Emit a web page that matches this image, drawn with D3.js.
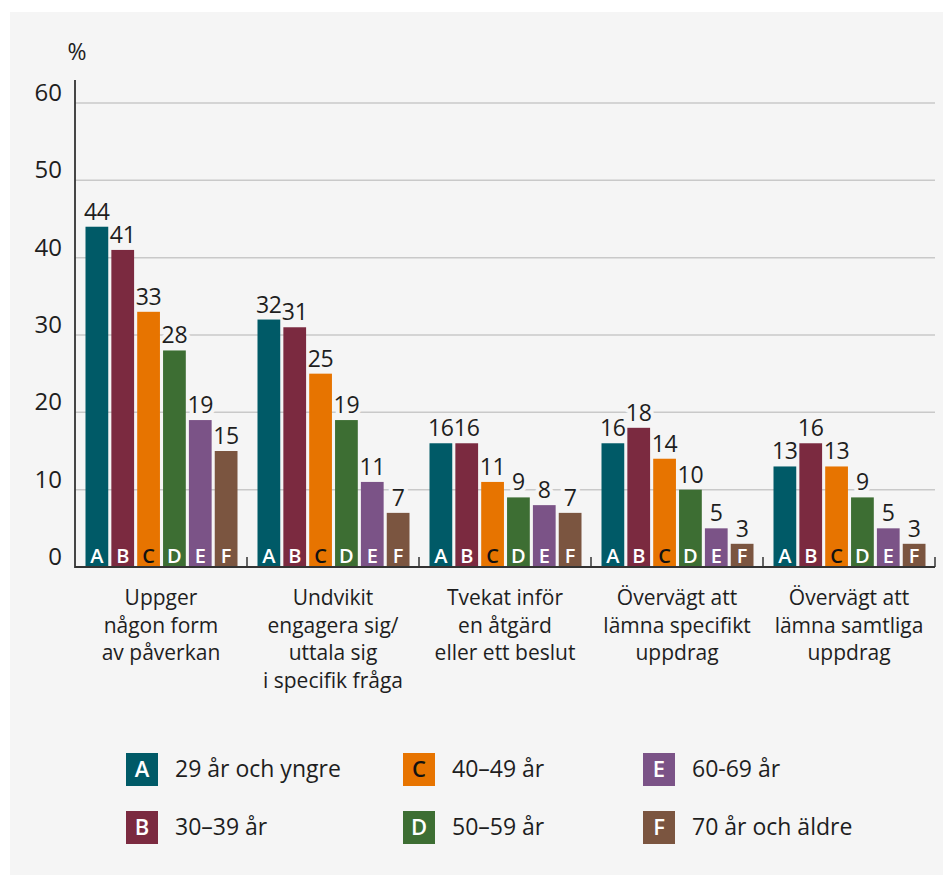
<!DOCTYPE html>
<html><head><meta charset="utf-8">
<script src="https://cdn.jsdelivr.net/npm/d3@7"></script>
<style>
html,body{margin:0;padding:0;background:#fff;}
svg{display:block;}
text{font-family:"Open Sans","Noto Sans",sans-serif;fill:#1e1e1e;}
</style></head><body>
<svg id="chart" width="943" height="875"></svg>
<script>
const categoryLines = [
  ["Uppger","någon form","av påverkan"],
  ["Undvikit","engagera sig/","uttala sig","i specifik fråga"],
  ["Tvekat inför","en åtgärd","eller ett beslut"],
  ["Övervägt att","lämna specifikt","uppdrag"],
  ["Övervägt att","lämna samtliga","uppdrag"]
];
const seriesKeys = ["A","B","C","D","E","F"];
const seriesNames = ["29 år och yngre","30–39 år","40–49 år","50–59 år","60-69 år","70 år och äldre"];
const seriesColors = ["#005a67","#7b2a40","#e77400","#3d6e33","#7b5387","#7b5540"];
const letterColors = ["#fff","#fff","#111","#fff","#fff","#fff"];
const valuesA = [44,32,16,16,13];
const valuesB = [41,31,16,18,16];
const valuesC = [33,25,11,14,13];
const valuesD = [28,19,9,10,9];
const valuesE = [19,11,8,5,5];
const valuesF = [15,7,7,3,3];
const yTicks = [0,10,20,30,40,50,60];

const seriesValues = [valuesA,valuesB,valuesC,valuesD,valuesE,valuesF];
const bg = "#f5f5f5";
const svg = d3.select("#chart");
svg.append("rect").attr("x",10).attr("y",12).attr("width",933).attr("height",863).attr("fill",bg);

const left = 75, right = 935, base = 567;
const y = d3.scaleLinear().domain([0,60]).range([base,103]);
const x0 = d3.scaleBand().domain(d3.range(categoryLines.length)).range([left,right]).padding(0);
const x1 = d3.scaleBand().domain(seriesKeys).range([10.5, x0.bandwidth()-9.5]).paddingInner(0.12).paddingOuter(0);

// gridlines
svg.append("g").selectAll("line").data(yTicks.filter(d=>d>0)).join("line")
  .attr("x1",left).attr("x2",right).attr("y1",d=>y(d)).attr("y2",d=>y(d))
  .attr("stroke","#c9c9c9").attr("stroke-width",1.5);

// tick labels
svg.append("g").selectAll("text").data(yTicks).join("text")
  .attr("x",62).attr("y",d=>y(d)-2).attr("text-anchor","end")
  .attr("font-size",24).attr("fill","#222").text(d=>d);
svg.append("text").attr("x",77).attr("y",60).attr("text-anchor","middle").attr("font-size",23).attr("fill","#333").text("%");

const data = [];
categoryLines.forEach((c,i)=>seriesKeys.forEach((k,j)=>data.push({i,j,k,v:seriesValues[j][i]})));

const groups = svg.append("g");
// label halos (behind bars)
groups.selectAll("text.halo").data(data).join("text").attr("class","halo")
  .attr("x",d=>x0(d.i)+x1(d.k)+x1.bandwidth()/2).attr("y",d=>y(d.v)-7)
  .attr("text-anchor","middle").attr("font-size",23).attr("letter-spacing",-0.3)
  .style("fill",bg).attr("stroke",bg).attr("stroke-width",8).attr("stroke-linejoin","round")
  .text(d=>d.v);
// bars
groups.selectAll("rect").data(data).join("rect")
  .attr("x",d=>x0(d.i)+x1(d.k)).attr("y",d=>y(d.v))
  .attr("width",x1.bandwidth()).attr("height",d=>base-y(d.v))
  .attr("fill",d=>seriesColors[d.j]);
// letters in bars
groups.selectAll("text.letter").data(data).join("text").attr("class","letter")
  .attr("x",d=>x0(d.i)+x1(d.k)+x1.bandwidth()/2).attr("y",base-4)
  .attr("text-anchor","middle").attr("font-size",20).attr("font-weight",600)
  .style("fill",d=>letterColors[d.j]).text(d=>d.k);
// value labels
groups.selectAll("text.val").data(data).join("text").attr("class","val")
  .attr("x",d=>x0(d.i)+x1(d.k)+x1.bandwidth()/2).attr("y",d=>y(d.v)-7)
  .attr("text-anchor","middle").attr("font-size",23).attr("letter-spacing",-0.3)
  .text(d=>d.v);

// axes lines
svg.append("line").attr("x1",left).attr("x2",left).attr("y1",80).attr("y2",base+1)
  .attr("stroke","#333").attr("stroke-width",1.8);
svg.append("line").attr("x1",left).attr("x2",right).attr("y1",base).attr("y2",base)
  .attr("stroke","#333").attr("stroke-width",2);
svg.append("g").selectAll("line").data(d3.range(1,categoryLines.length+1)).join("line")
  .attr("x1",d=>left+d*x0.step()).attr("x2",d=>left+d*x0.step())
  .attr("y1",base).attr("y2",base-10).attr("stroke","#333").attr("stroke-width",1.5);

// category labels
const cat = svg.append("g").selectAll("text").data(categoryLines).join("text")
  .attr("x",(d,i)=>x0(i)+x0.bandwidth()/2).attr("y",605)
  .attr("text-anchor","middle").attr("font-size",21).attr("fill","#222");
cat.selectAll("tspan").data(d=>d).join("tspan")
  .attr("x",function(){return this.parentNode.getAttribute("x");})
  .attr("dy",(d,k)=>k===0?0:27.5).text(d=>d);

// legend
const legX = [126,403,643], legY = [753,811];
const leg = svg.append("g").selectAll("g").data(seriesKeys).join("g")
  .attr("transform",(d,j)=>`translate(${legX[Math.floor(j/2)]},${legY[j%2]})`);
leg.append("rect").attr("width",32).attr("height",33).attr("fill",(d,j)=>seriesColors[j]);
leg.append("text").attr("x",16).attr("y",24).attr("text-anchor","middle")
  .attr("font-size",22).attr("font-weight",600).style("fill",(d,j)=>letterColors[j]).text(d=>d);
leg.append("text").attr("x",49).attr("y",24).attr("font-size",23).attr("fill","#1e1e1e")
  .text((d,j)=>seriesNames[j]);
</script>
</body></html>
